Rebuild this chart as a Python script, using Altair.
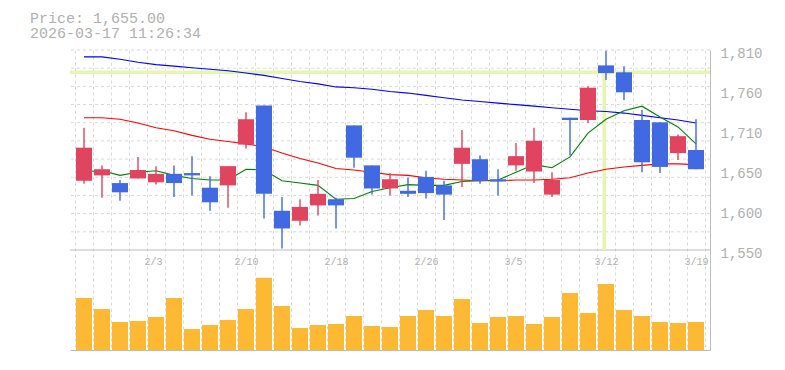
import altair as alt
import pandas as pd

# ---- data ----
dates = ["1/28", "1/29", "1/30", "2/2", "2/3", "2/4", "2/5", "2/6", "2/9", "2/10",
         "2/12", "2/13", "2/16", "2/17", "2/18", "2/19", "2/20", "2/24", "2/25", "2/26",
         "2/27", "3/2", "3/3", "3/4", "3/5", "3/6", "3/9", "3/10", "3/11", "3/12",
         "3/13", "3/16", "3/17", "3/18", "3/19"]
opens = [1640, 1647, 1637, 1643, 1638, 1649, 1650, 1631, 1634, 1687,
         1738, 1601, 1588, 1608, 1616, 1712, 1660, 1630, 1627, 1645,
         1634, 1662, 1668, 1642, 1660, 1652, 1622, 1722, 1719, 1790,
         1781, 1719, 1716, 1676, 1680]
highs = [1709, 1660, 1641, 1671, 1659, 1660, 1672, 1646, 1659, 1729,
         1738, 1619, 1616, 1641, 1618, 1712, 1660, 1650, 1644, 1653,
         1640, 1706, 1673, 1655, 1689, 1709, 1651, 1722, 1763, 1809,
         1789, 1732, 1716, 1700, 1720]
lows = [1636, 1618, 1614, 1643, 1635, 1619, 1621, 1601, 1605, 1682,
        1591, 1552, 1582, 1595, 1578, 1657, 1622, 1621, 1619, 1617,
        1589, 1632, 1636, 1621, 1653, 1637, 1619, 1673, 1715, 1771,
        1745, 1651, 1650, 1667, 1655]
closes = [1683, 1655, 1625, 1654, 1649, 1637, 1647, 1612, 1659, 1720,
          1623, 1578, 1606, 1623, 1608, 1670, 1630, 1642, 1623, 1624,
          1622, 1683, 1640, 1639, 1672, 1692, 1641, 1719, 1761, 1780,
          1755, 1664, 1658, 1698, 1655]
ma_short = [1652, 1653, 1647, 1651, 1653, 1647, 1643, 1641, 1641, 1655,
            1654, 1640, 1637, 1634, 1616, 1617, 1626, 1631, 1635, 1634,
            1634, 1639, 1640, 1641, 1651, 1661, 1657, 1671, 1702, 1720,
            1731, 1737, 1723, 1710, 1688]
ma_mid = [1722, 1722, 1720, 1715, 1709, 1705, 1699, 1694, 1691, 1688,
          1684, 1676, 1669, 1663, 1656, 1654, 1651, 1648, 1647, 1644,
          1642, 1641, 1640, 1640, 1641, 1641, 1642, 1644, 1650, 1655,
          1658, 1660, 1662, 1662, 1661]
ma_long = [1801, 1801, 1798, 1794, 1791, 1789, 1787, 1785, 1783, 1780,
           1777, 1773, 1769, 1766, 1762, 1761, 1759, 1756, 1754, 1751,
           1748, 1745, 1743, 1741, 1739, 1737, 1735, 1733, 1731, 1730,
           1728, 1725, 1722, 1719, 1715]
volumes = [520, 410, 280, 290, 330, 520, 210, 250, 300, 410,
           723, 440, 220, 250, 260, 340, 240, 230, 340, 400,
           340, 510, 270, 330, 340, 260, 330, 570, 370, 660,
           400, 340, 280, 270, 280]
label_dates = ["2/3", "2/10", "2/18", "2/26", "3/5", "3/12", "3/19"]
price_ticks = [1550, 1602, 1654, 1706, 1758, 1810]
price_min, price_max = 1550, 1810
volume_max = 1000
cursor_index = 28.9
cursor_price = 1781
title_lines = ["Price: 1,655.00", "2026-03-17 11:26:34"]

# ---- layout (price panel 200px over volume panel 100px) ----
PRICE_H, VOL_H, W = 200, 100, 640
TOTAL_H = PRICE_H + VOL_H
price_scale_min = price_min - (price_max - price_min) * VOL_H / PRICE_H
volume_scale_max = volume_max * TOTAL_H / VOL_H

# ---- tables ----
n = len(dates)
df = pd.DataFrame({
    "idx": list(range(n)), "date": dates, "open": opens, "high": highs,
    "low": lows, "close": closes, "volume": volumes,
    "ma5": ma_short, "ma25": ma_mid, "ma75": ma_long,
})
df["dir"] = ["up" if c >= o else "down" for o, c in zip(opens, closes)]
labels_df = pd.DataFrame({"date": label_dates,
                          "idx": [dates.index(d) for d in label_dates]})
hgrid = [price_min + k * (price_max - price_min) / 11 for k in range(1, 12)]
hgrid_df = pd.DataFrame({"g": hgrid})
sep_df = pd.DataFrame({"g": [price_min]})
cursor_df = pd.DataFrame({"x": [cursor_index], "p": [cursor_price]})
title_df = pd.DataFrame({"t": title_lines})

FONT = "Liberation Mono"
GRID = "#d9d9d9"
AXIS = "#bbbbbb"
TXT = "#b0b0b0"

xscale = alt.Scale(domain=[-0.5, n - 0.5], nice=False, zero=False)
xaxis = alt.Axis(values=[k - 0.5 for k in range(n + 1)], grid=True, gridDash=[3, 3],
                 gridColor=GRID, labels=False, ticks=False, domainColor=AXIS, title=None)
pscale = alt.Scale(domain=[price_scale_min, price_max], nice=False, zero=False)
paxis = alt.Axis(orient="right", values=price_ticks,
                 labelExpr="format(round(datum.value/10)*10, ',')",
                 grid=False, ticks=False, domainColor=AXIS, labelColor=TXT,
                 labelFont=FONT, labelFontSize=14, labelPadding=10, labelOffset=3,
                 labelBaseline="middle", labelOverlap=False, title=None)


def X(field):
    return alt.X(field, scale=xscale, axis=xaxis)


def PY(field):
    return alt.Y(field, scale=pscale, axis=paxis)


color = alt.Color("dir:N", scale=alt.Scale(domain=["up", "down"],
                                           range=["#e0445f", "#4169e1"]), legend=None)

base = alt.Chart(df)

grid_h = alt.Chart(hgrid_df).mark_rule(color=GRID, strokeDash=[3, 3], strokeWidth=1).encode(
    y=PY("g:Q"))
sep = alt.Chart(sep_df).mark_rule(color=AXIS, strokeWidth=1).encode(y=PY("g:Q"))
cross_h = alt.Chart(cursor_df).mark_rule(color="#e6f5b0", strokeWidth=3.5).encode(
    y=PY("p:Q"))
cross_v = alt.Chart(cursor_df).mark_rule(color="#e6f5b0", strokeWidth=3.5).encode(
    x=X("x:Q"), y=PY("p:Q"), y2=alt.datum(price_min))
line_long = base.mark_line(color="#0000ff", strokeWidth=1.1).encode(x=X("idx:Q"), y=PY("ma75:Q"))
line_mid = base.mark_line(color="#ff0000", strokeWidth=1.1).encode(x=X("idx:Q"), y=PY("ma25:Q"))
line_short = base.mark_line(color="#008000", strokeWidth=1.1).encode(x=X("idx:Q"), y=PY("ma5:Q"))
wicks = base.mark_rule(strokeWidth=1.4).encode(
    x=X("idx:Q"), y=PY("low:Q"), y2="high:Q", color=color)
bodies = base.mark_bar(width=16).encode(
    x=X("idx:Q"), y=PY("open:Q"), y2="close:Q", color=color)
title1 = alt.Chart(title_df.iloc[[0]]).mark_text(
    align="left", baseline="alphabetic", font=FONT, fontSize=15, color=TXT
).encode(x=alt.value(-40), y=alt.value(-27), text="t:N")
title2 = alt.Chart(title_df.iloc[[1]]).mark_text(
    align="left", baseline="alphabetic", font=FONT, fontSize=15, color=TXT
).encode(x=alt.value(-40), y=alt.value(-12), text="t:N")
vol_labels = alt.Chart(labels_df).mark_text(
    align="left", baseline="middle", dx=-11.5, font=FONT, fontSize=10, color=TXT
).encode(x=X("idx:Q"), y=alt.value(PRICE_H + 12), text="date:N")

price_layers = alt.layer(grid_h, sep, cross_h, cross_v, line_long, line_mid, line_short,
                         wicks, bodies, title1, title2, vol_labels)

vol_bars = base.mark_bar(width=16, color="#fdb933").encode(
    x=X("idx:Q"),
    y=alt.Y("volume:Q", scale=alt.Scale(domain=[0, volume_scale_max], nice=False), axis=None))

chart = alt.layer(vol_bars, price_layers).resolve_scale(y="independent").properties(
    width=W, height=TOTAL_H,
    padding={"left": 22, "top": 3, "right": 5, "bottom": 5},
    background="white",
).configure_view(stroke=None)

chart.save("out.html", embed_options={"renderer": "svg", "actions": False})
